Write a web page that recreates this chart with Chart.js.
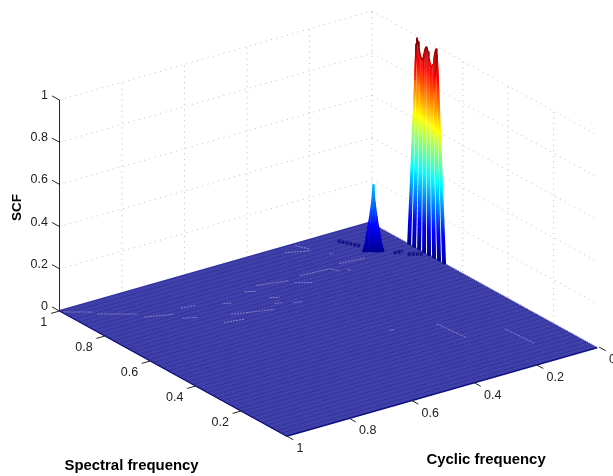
<!DOCTYPE html>
<html>
<head>
<meta charset="utf-8">
<title>SCF</title>
<script src="https://cdn.jsdelivr.net/npm/chart.js@4"></script>
<style>
body { margin: 0; background: #fff; }
canvas { display: block; }
</style>
</head>
<body>
<canvas id="scfChart" width="613" height="476"></canvas>
<script>
// axis ticks
const cyclicTicks = [0, 0.2, 0.4, 0.6, 0.8, 1];
const cyclicLabels = ['0', '0.2', '0.4', '0.6', '0.8', '1'];
const spectralTicks = [0.2, 0.4, 0.6, 0.8, 1];
const spectralLabels = ['0.2', '0.4', '0.6', '0.8', '1'];
const scfTicks = [0, 0.2, 0.4, 0.6, 0.8, 1];
const scfLabels = ['0', '0.2', '0.4', '0.6', '0.8', '1'];

// tall ridge next to cyclic frequency 0, one entry per column
const ridgeCyclic = 0.008;
const ridgeTopSpectral = [0.800, 0.795, 0.791, 0.786, 0.782, 0.778, 0.773, 0.769, 0.764, 0.760, 0.755, 0.751,
  0.747, 0.742, 0.738, 0.733, 0.729, 0.725, 0.720, 0.716, 0.711, 0.707, 0.703, 0.698];
const ridgeBaseSpectral = [0.830, 0.826, 0.821, 0.808, 0.804, 0.799, 0.786, 0.782, 0.777, 0.764, 0.760, 0.755,
  0.742, 0.738, 0.733, 0.720, 0.716, 0.711, 0.698, 0.694, 0.689, 0.676, 0.672, 0.667];
const ridgeHeights = [0.795, 0.968, 0.999, 0.983, 0.957, 0.931, 0.915, 0.908, 0.920, 0.942, 0.968, 0.980,
  0.978, 0.962, 0.935, 0.915, 0.903, 0.901, 0.917, 0.949, 0.980, 0.997, 0.976, 0.893];

// small peak
const peakBaseCyclic = [0.133, 0.129, 0.125, 0.120, 0.116, 0.112, 0.108, 0.104, 0.099, 0.095, 0.091];
const peakBaseSpectral = [0.855, 0.852, 0.849, 0.846, 0.843, 0.840, 0.837, 0.834, 0.831, 0.828, 0.825];
const peakTopCyclic = [0.129, 0.126, 0.123, 0.119, 0.115, 0.112, 0.109, 0.105, 0.101, 0.098, 0.095];
const peakTopSpectral = [0.852, 0.850, 0.848, 0.845, 0.842, 0.840, 0.838, 0.835, 0.833, 0.830, 0.828];
const peakHeights = [0.04, 0.08, 0.12, 0.17, 0.24, 0.32, 0.24, 0.17, 0.12, 0.08, 0.04];

// pale specks on the floor: [cyclic, spectral] runs
const speckRuns = [
  [[0.995, 0.989], [0.932, 0.943]], [[0.931, 0.927], [0.847, 0.866]], [[0.846, 0.841], [0.771, 0.811]],
  [[0.733, 0.832], [0.690, 0.825]], [[0.768, 0.777], [0.732, 0.759]], [[0.696, 0.693], [0.643, 0.679]],
  [[0.651, 0.725], [0.541, 0.686]], [[0.625, 0.794], [0.609, 0.782]], [[0.518, 0.717], [0.499, 0.711]],
  [[0.474, 0.693], [0.453, 0.686]], [[0.229, 0.829], [0.151, 0.821]], [[0.357, 0.825], [0.269, 0.818], [0.256, 0.792]],
  [[0.235, 0.785], [0.227, 0.779]], [[0.487, 0.838], [0.400, 0.816]], [[0.395, 0.796], [0.359, 0.771]],
  [[0.535, 0.825], [0.510, 0.807]], [[0.505, 0.756], [0.484, 0.741]], [[0.301, 0.968], [0.240, 0.941]],
  [[0.253, 0.990], [0.235, 0.953]], [[0.212, 0.896], [0.203, 0.890]], [[0.379, 0.401], [0.365, 0.399]],
  [[0.253, 0.366], [0.244, 0.248]], [[0.129, 0.237], [0.122, 0.120]]
];
// dark blotches near the peaks
const blotchRuns = [
  [[0.145, 0.952], [0.116, 0.891]], [[0.073, 0.804], [0.046, 0.801]], [[0.047, 0.778], [0.016, 0.755]]
];

const jetStops = [
  [0, '#00008f'], [0.125, '#0000ff'], [0.375, '#00ffff'], [0.625, '#ffff00'], [0.875, '#ff0000'], [1, '#800000']
];

// fixed camera of the original 3D view
function project(c, s, z) {
  return { x: 599 - 312.5 * c - 227 * s, y: 347 + 89 * c - 125 * s - 211 * z };
}

const datasets = [];
function addLine(points, style) {
  datasets.push(Object.assign({
    data: points.map(p => project(p[0], p[1], p[2] || 0)),
    showLine: true, pointRadius: 0, borderWidth: 1, borderColor: '#000', tension: 0
  }, style));
}

// walls
const gridStyle = { borderColor: '#bcbcbc', borderDash: [1, 4.5], borderWidth: 1 };
scfTicks.slice(1).forEach(z => {
  addLine([[1, 1, z], [0, 1, z]], gridStyle);
  addLine([[0, 1, z], [0, 0.02, z]], gridStyle);
});
cyclicTicks.slice(0, 5).forEach(c => addLine([[c, 1, 0], [c, 1, 1]], gridStyle));
spectralTicks.slice(0, 4).forEach(s => addLine([[0, s, 0], [0, s, 1]], gridStyle));

// floor mesh
for (let i = 0; i <= 125; i++) {
  addLine([[0.006, i / 125], [1, i / 125]], { borderColor: '#3e3ea6', borderWidth: 2.2 });
}
for (let i = 0; i <= 46; i++) {
  addLine([[0.006, i / 46], [1, i / 46]], { borderColor: 'rgba(30,30,150,0.45)', borderWidth: 1 });
}
for (let i = 0; i <= 90; i++) {
  addLine([[0.006 + 0.994 * i / 90, 0], [0.006 + 0.994 * i / 90, 1]], { borderColor: 'rgba(90,90,200,0.3)', borderWidth: 0.7 });
}
addLine([[0.006, 0], [1, 0], [1, 1]], { borderColor: '#10107a', borderWidth: 1.2 });

speckRuns.forEach(run => addLine(run, { borderColor: 'rgba(190,190,220,0.55)', borderWidth: 1, borderDash: [2, 1] }));
blotchRuns.forEach(run => addLine(run, { borderColor: '#14148a', borderWidth: 3.5, borderDash: [3, 1] }));

// colour follows height, as in the jet colormap
function jetFor(c, s) {
  return ctx => {
    const scaleY = ctx.chart.scales.y;
    const y0 = scaleY.getPixelForValue(project(c, s, 0).y);
    const y1 = scaleY.getPixelForValue(project(c, s, 1).y);
    if (!isFinite(y0) || !isFinite(y1)) return jetStops[0][1]; // scales not laid out yet
    const grad = ctx.chart.ctx.createLinearGradient(0, y0, 0, y1);
    jetStops.forEach(st => grad.addColorStop(st[0], st[1]));
    return grad;
  };
}

peakHeights.forEach((h, i) => {
  const mid = peakBaseSpectral[i];
  addLine([
    [peakBaseCyclic[i] + 0.002, mid, 0],
    [peakTopCyclic[i], peakTopSpectral[i], h],
    [peakBaseCyclic[i] - 0.002, mid, 0]
  ], { borderColor: jetFor(peakBaseCyclic[i], mid), borderWidth: 1.6, borderJoinStyle: 'bevel' });
});
// outline over the column tops keeps the flanks smooth
addLine(peakHeights.map((h, i) => [peakTopCyclic[i], peakTopSpectral[i], h]),
  { borderColor: jetFor(peakBaseCyclic[5], peakBaseSpectral[5]), borderWidth: 1.6, borderJoinStyle: 'round' });

ridgeHeights.forEach((h, i) => {
  const base = ridgeBaseSpectral[i];
  addLine([
    [ridgeCyclic + 0.001, base, 0],
    [ridgeCyclic, ridgeTopSpectral[i], h],
    [ridgeCyclic - 0.001, base, 0]
  ], { borderColor: jetFor(ridgeCyclic, base), borderWidth: 1.3, borderJoinStyle: 'bevel' });
});
addLine(ridgeHeights.map((h, i) => [ridgeCyclic, ridgeTopSpectral[i], h]),
  { borderColor: jetFor(ridgeCyclic, ridgeBaseSpectral[12]), borderWidth: 1.5, borderJoinStyle: 'round' });

// axis lines and tick marks
const axisStyle = { borderColor: '#262626', borderWidth: 1 };
addLine([[1, 1, 0], [1, 1, 1]], axisStyle);
scfTicks.forEach(z => addLine([[1, 1, z], [1, 1.033, z]], axisStyle));
spectralTicks.forEach(s => addLine([[1, s, 0], [1.027, s, 0]], axisStyle));
cyclicTicks.forEach(c => addLine([[c, 0, 0], [c, -0.03, 0]], axisStyle));

const textPlugin = {
  id: 'axisText',
  afterDatasetsDraw(chart) {
    const { ctx, scales } = chart;
    const put = (c, s, z, label, dx, dy, align) => {
      const p = project(c, s, z);
      ctx.textAlign = align;
      ctx.fillText(label, scales.x.getPixelForValue(p.x) + dx, scales.y.getPixelForValue(p.y) + dy);
    };
    ctx.save();
    ctx.fillStyle = '#222';
    ctx.textBaseline = 'middle';
    ctx.font = '12.5px "Liberation Sans", Arial, sans-serif';
    scfTicks.forEach((z, i) => put(1, 1, z, scfLabels[i], -11.5, -4.5, 'right'));
    spectralTicks.forEach((s, i) => put(1, s, 0, spectralLabels[i], -12.2, 11.7, 'right'));
    cyclicTicks.forEach((c, i) => put(c, 0, 0, cyclicLabels[i], 10, 12.8, 'left'));
    ctx.fillStyle = '#000';
    ctx.font = 'bold 14.9px "Liberation Sans", Arial, sans-serif';
    ctx.textAlign = 'left';
    ctx.fillText('Spectral frequency', 64.5, 466);
    ctx.fillText('Cyclic frequency', 426.5, 459.5);
    ctx.translate(17, 207.5);
    ctx.rotate(-Math.PI / 2);
    ctx.textAlign = 'center';
    ctx.font = 'bold 13.5px "Liberation Sans", Arial, sans-serif';
    ctx.fillText('SCF', 0, 0);
    ctx.restore();
  }
};

new Chart(document.getElementById('scfChart').getContext('2d'), {
  type: 'scatter',
  data: { datasets: datasets.reverse() }, // chart.js paints the first dataset last
  options: {
    responsive: false,
    animation: false,
    events: [],
    layout: { padding: 0 },
    plugins: { legend: { display: false }, tooltip: { enabled: false } },
    scales: {
      x: { type: 'linear', min: 0, max: 613, display: false },
      y: { type: 'linear', min: 0, max: 476, reverse: true, display: false }
    }
  },
  plugins: [textPlugin]
});
</script>
</body>
</html>
